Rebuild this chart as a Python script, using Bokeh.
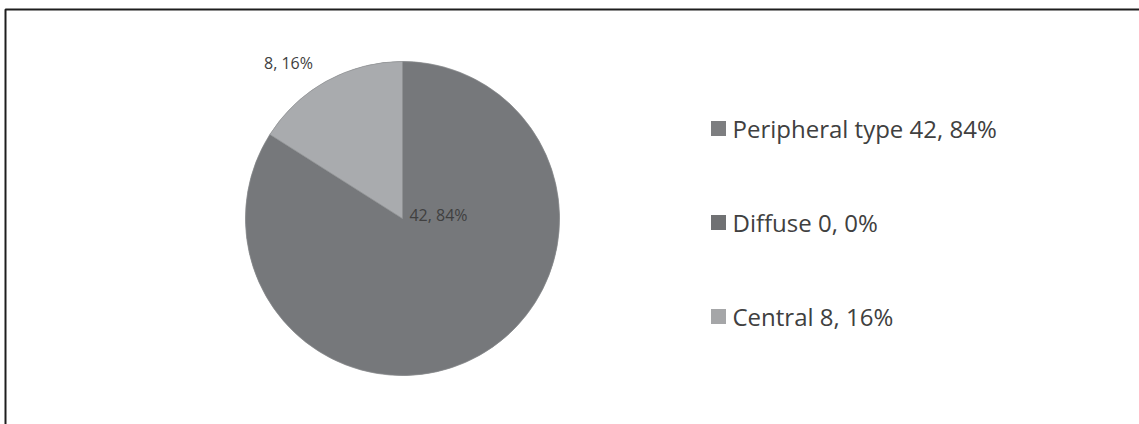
import math
from bokeh.plotting import figure
from bokeh.models import Range1d, BoxAnnotation, ColumnDataSource
from bokeh.core.properties import value
from bokeh.embed import file_html
from bokeh.resources import INLINE

# ---- data ----
categories = ["Peripheral type", "Diffuse", "Central"]
counts = [42, 0, 8]
slice_colors = ["#838588", "#76787b", "#a9abae"]
legend_colors = ["#7d7e80", "#707173", "#a5a6a8"]

total = sum(counts)
pcts = [round(100 * c / total) for c in counts]

W, H = 1139, 424
p = figure(width=W, height=H, output_backend="svg", toolbar_location=None,
           x_range=Range1d(0, W), y_range=Range1d(0, H), min_border=0)
p.axis.visible = False
p.grid.visible = False
p.outline_line_color = None
p.background_fill_color = "white"
p.border_fill_color = "white"

# frame border (top/left visible)
p.add_layout(BoxAnnotation(left=5, right=W + 10, top=H - 9, bottom=-10,
                           fill_alpha=0, line_color="#1e1e1e", line_alpha=1,
                           line_width=2))

cx, cy, r = 402, 424 - 218, 157

# wedges: start at 12 o'clock, clockwise
starts, ends = [], []
a = math.pi / 2
for c in counts:
    span = 2 * math.pi * c / total
    starts.append(a)
    ends.append(a - span)
    a -= span

src = ColumnDataSource(dict(start=starts, end=ends, color=slice_colors))
p.wedge(x=cx, y=cy, radius=r, start_angle="start", end_angle="end",
        direction="clock", fill_color="color", line_color="#8e9093",
        line_width=0.5, source=src)

# data labels (only non-zero slices)
lab_dx = [36, 0, -114]
lab_dy = [4, 0, 156]
lx, ly, lt = [], [], []
for i, c in enumerate(counts):
    if c == 0:
        continue
    lx.append(cx + lab_dx[i])
    ly.append(cy + lab_dy[i])
    lt.append(f"{c}, {pcts[i]}%")
p.text(x=lx, y=ly, text=lt, text_font=value("Open Sans"), text_font_size="16px",
       text_color="#404040", text_align="center", text_baseline="middle")

# legend
leg_y = [424 - 128, 424 - 222, 424 - 316]
leg_text = [f"{categories[i]} {counts[i]}, {pcts[i]}%" for i in range(3)]
p.rect(x=[718] * 3, y=leg_y, width=15, height=15, fill_color=legend_colors,
       line_color=None)
p.text(x=[732] * 3, y=leg_y, text=leg_text, text_font=value("Open Sans"),
       text_font_size="24px", text_color="#404040", text_align="left",
       text_baseline="middle")

open("out.html", "w").write(file_html(p, INLINE))
